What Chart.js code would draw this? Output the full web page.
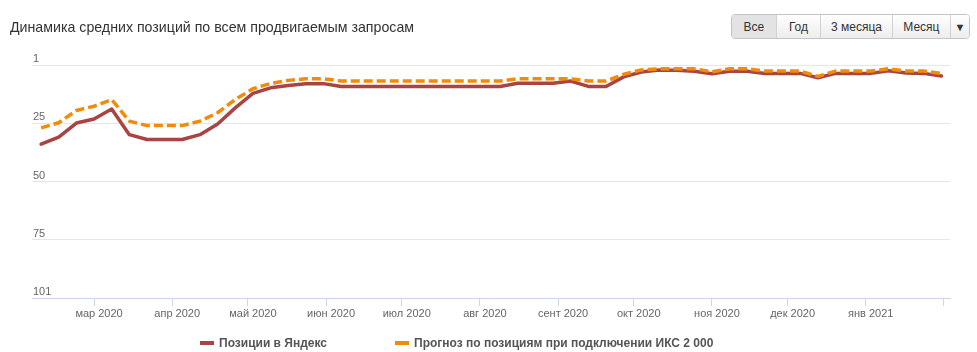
<!DOCTYPE html>
<html><head><meta charset="utf-8">
<script src="https://cdn.jsdelivr.net/npm/chart.js@4.4.1/dist/chart.umd.min.js"></script>
<style>
html,body{margin:0;padding:0;background:#fff;}
#wrap{position:relative;width:977px;height:352px;overflow:hidden;font-family:"Liberation Sans",Arial,sans-serif;}
#c{position:absolute;left:0;top:0;}
#title{position:absolute;left:10px;top:18px;font-size:14.2px;color:#333;white-space:nowrap;line-height:18px;}
#btns{position:absolute;left:731px;top:14px;width:239px;height:25px;display:flex;border:1px solid #c4c4c4;border-radius:4px;overflow:hidden;box-sizing:border-box;}
.b{height:100%;display:flex;align-items:center;justify-content:center;font-size:12px;color:#333;background:linear-gradient(#fefefe,#ededed);border-left:1px solid #d2d2d2;box-sizing:border-box;}
.b:first-child{border-left:none;}
.b.act{background:#e3e3e3;}
.lg{position:absolute;top:335px;height:16px;display:flex;align-items:center;font-family:"Liberation Sans",Arial,sans-serif;font-weight:bold;font-size:12px;color:#555;white-space:nowrap;}
.mk{width:14px;height:4px;margin-right:5px;}
</style></head>
<body>
<div id="wrap">
  <canvas id="c" width="977" height="352"></canvas>
  <div id="title">Динамика средних позиций по всем продвигаемым запросам</div>
  <div id="btns">
    <div class="b act" style="width:44px">Все</div>
    <div class="b" style="width:45px">Год</div>
    <div class="b" style="width:72px">3 месяца</div>
    <div class="b" style="width:59px">Месяц</div>
    <div class="b" style="width:19px;font-size:11px">▼</div>
  </div>
  <div class="lg" style="left:200px"><div class="mk" style="background:#a84442"></div><span id="l1"></span></div>
  <div class="lg" style="left:395px"><div class="mk" style="background:#f28a0a"></div><span id="l2"></span></div>
</div>
<script>
// ---- data ----
const DATES = [
  '2020-02-09','2020-02-16','2020-02-23','2020-03-01','2020-03-08','2020-03-15','2020-03-22','2020-03-29',
  '2020-04-05','2020-04-12','2020-04-19','2020-04-26','2020-05-03','2020-05-10','2020-05-17','2020-05-24',
  '2020-05-31','2020-06-07','2020-06-14','2020-06-21','2020-06-28','2020-07-05','2020-07-12','2020-07-19',
  '2020-07-26','2020-08-02','2020-08-09','2020-08-16','2020-08-23','2020-08-30','2020-09-06','2020-09-13',
  '2020-09-20','2020-09-27','2020-10-04','2020-10-11','2020-10-18','2020-10-25','2020-11-01','2020-11-08',
  '2020-11-15','2020-11-22','2020-11-29','2020-12-06','2020-12-13','2020-12-20','2020-12-27','2021-01-03',
  '2021-01-10','2021-01-17','2021-01-24','2021-01-31'
];
const POSITIONS_YANDEX = [
  34.0, 31.0, 24.9, 23.2, 18.9, 29.9, 32.0, 32.0, 32.0, 29.9, 25.3, 18.4, 12.2, 9.8, 8.8, 8.0,
  8.0, 9.2, 9.2, 9.2, 9.2, 9.2, 9.2, 9.2, 9.2, 9.2, 9.2, 7.8, 7.8, 7.8, 6.9, 9.2,
  9.2, 5.1, 3.0, 2.1, 2.3, 2.7, 3.8, 2.7, 2.7, 3.6, 3.6, 3.6, 5.5, 3.6, 3.6, 3.6,
  2.5, 3.4, 3.6, 4.7
];
const FORECAST_IKS = [
  27.0, 24.8, 19.5, 17.7, 14.8, 24.1, 26.0, 26.0, 26.0, 24.1, 20.5, 14.8, 10.2, 7.9, 6.6, 5.9,
  5.9, 6.9, 6.9, 6.9, 6.9, 6.9, 6.9, 6.9, 6.9, 6.9, 6.9, 5.9, 5.9, 5.9, 5.9, 6.9,
  6.9, 4.0, 2.1, 1.6, 1.6, 1.6, 2.9, 1.6, 1.6, 2.6, 2.6, 2.6, 4.9, 2.6, 2.6, 2.6,
  1.6, 2.6, 2.6, 3.6
];
const MONTH_TICKS = ['2020-03-01','2020-04-01','2020-05-01','2020-06-01','2020-07-01','2020-08-01',
  '2020-09-01','2020-10-01','2020-11-01','2020-12-01','2021-01-01','2021-02-01'];
const MONTH_LABELS = ['мар 2020','апр 2020','май 2020','июн 2020','июл 2020','авг 2020',
  'сент 2020','окт 2020','ноя 2020','дек 2020','янв 2021',''];
const Y_TICKS = [0, 25, 50, 75, 100];
const Y_LABELS = ['1', '25', '50', '75', '101'];
const SERIES_NAMES = ['Позиции в Яндекс', 'Прогноз по позициям при подключении ИКС 2 000'];

// ---- helpers ----
const ORIGIN = Date.UTC(2020, 2, 1);
function dayOf(s) { const p = s.split('-').map(Number); return (Date.UTC(p[0], p[1]-1, p[2]) - ORIGIN) / 86400000; }
const xs = DATES.map(dayOf);
const tickDays = MONTH_TICKS.map(dayOf);

document.getElementById('l1').textContent = SERIES_NAMES[0];
document.getElementById('l2').textContent = SERIES_NAMES[1];

const FONT = {family: '"Liberation Sans", Arial, sans-serif', size: 11};

new Chart(document.getElementById('c'), {
  type: 'line',
  data: {
    datasets: [
      {label: SERIES_NAMES[0], data: xs.map((x,i)=>({x, y: POSITIONS_YANDEX[i]})),
       borderColor: '#a84442', borderWidth: 3.5, pointRadius: 0, tension: 0, order: 2,
       borderCapStyle: 'round', borderJoinStyle: 'round'},
      {label: SERIES_NAMES[1], data: xs.map((x,i)=>({x, y: FORECAST_IKS[i]})),
       borderColor: '#f28a0a', borderWidth: 3.5, pointRadius: 0, tension: 0, order: 1,
       borderDash: [9, 4], borderCapStyle: 'butt', borderJoinStyle: 'round'}
    ]
  },
  options: {
    responsive: false, animation: false, devicePixelRatio: 1,
    layout: {padding: {left: 32, top: 65, right: 27, bottom: 0}},
    plugins: {legend: {display: false}, title: {display: false}, tooltip: {enabled: false}},
    scales: {
      x: {
        type: 'linear', min: -24.6, max: 339.4,
        afterBuildTicks: s => { s.ticks = tickDays.map(v => ({value: v})); },
        afterFit: s => { s.height = 54; },
        ticks: {
          autoSkip: false, maxRotation: 0, color: '#666', font: FONT, padding: 1, labelOffset: 5,
          callback: (v, i) => MONTH_LABELS[i]
        },
        grid: {drawOnChartArea: false, drawTicks: true, tickLength: 8, color: '#ccd6eb'},
        border: {display: true, color: '#ccd6eb', width: 1}
      },
      y: {
        type: 'linear', min: 0, max: 100, reverse: true,
        afterBuildTicks: s => { s.ticks = Y_TICKS.map(v => ({value: v})); },
        afterFit: s => { s.width = 0; },
        ticks: {
          mirror: true, padding: 1, labelOffset: -6, color: '#666', font: FONT,
          callback: (v, i) => Y_LABELS[i]
        },
        grid: {drawTicks: false, color: '#e6e6e6', lineWidth: 1},
        border: {display: false}
      }
    }
  }
});
</script>
</body></html>
